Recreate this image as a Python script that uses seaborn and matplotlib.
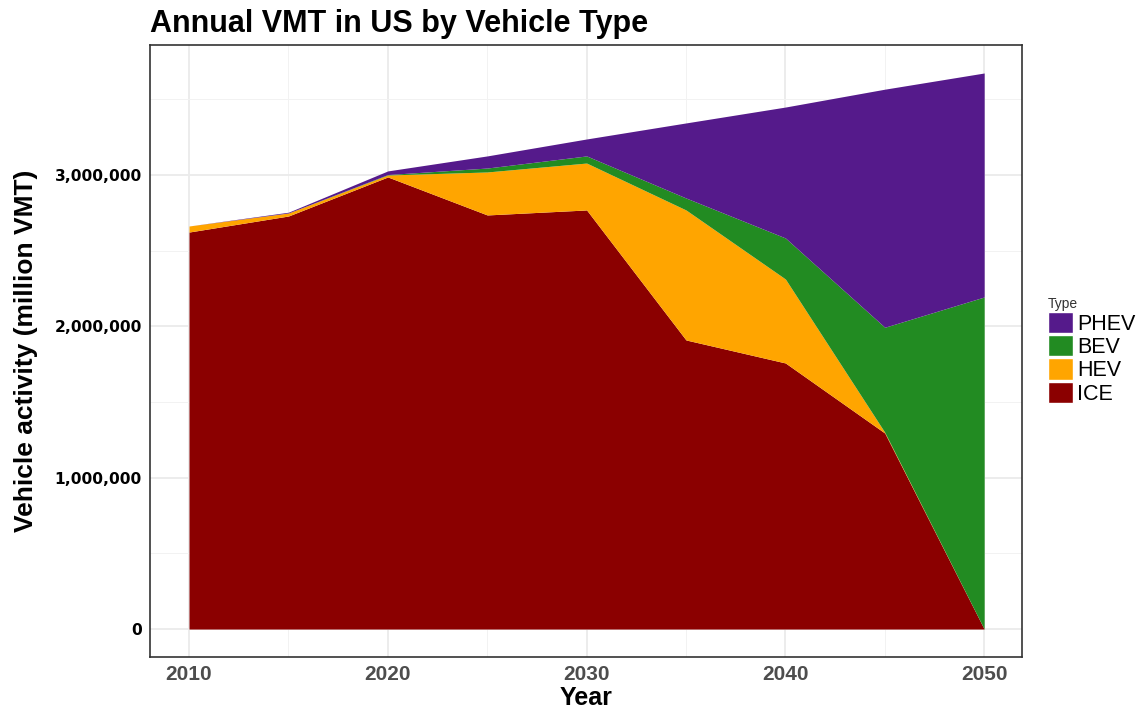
import numpy as np
import matplotlib.pyplot as plt
import matplotlib.ticker as mticker
from matplotlib.patches import Patch
import seaborn as sns

years = [2010, 2015, 2020, 2025, 2030, 2035, 2040, 2045, 2050]
ice = [2623000, 2729000, 2987000, 2736000, 2769000, 1910000, 1758000, 1295000, 0]
hev = [40000, 20000, 13000, 284000, 310000, 859000, 555000, 5000, 0]
bev = [0, 0, 3000, 26000, 47000, 79000, 271000, 694000, 2194000]
phev = [0, 5000, 24000, 80000, 112000, 496000, 865000, 1573000, 1480000]

types = ['ICE', 'HEV', 'BEV', 'PHEV']
colors = {'ICE': '#8B0000', 'HEV': '#FFA500', 'BEV': '#228B22', 'PHEV': '#551A8B'}

sns.set_theme(style='whitegrid')
plt.rcParams['font.family'] = ['Liberation Sans', 'DejaVu Sans']
plt.rcParams['text.color'] = 'black'

fig = plt.figure(figsize=(11.48, 7.13), dpi=100)
ax = fig.add_axes([0.1307, 0.0785, 0.7595, 0.8584])

ax.stackplot(years, ice, hev, bev, phev,
             colors=[colors[t] for t in types], linewidth=0)

ax.set_xlim(2008.04, 2051.9)
ax.set_ylim(-185000, 3859000)
ax.xaxis.set_major_locator(mticker.MultipleLocator(10))
ax.xaxis.set_minor_locator(mticker.MultipleLocator(5))
ax.yaxis.set_major_locator(mticker.MultipleLocator(1000000))
ax.yaxis.set_minor_locator(mticker.MultipleLocator(500000))
ax.yaxis.set_major_formatter(mticker.FuncFormatter(lambda v, p: '{:,.0f}'.format(v)))

ax.set_axisbelow(True)
ax.grid(which='major', color='#EBEBEB', linewidth=1.3)
ax.grid(which='minor', color='#F2F2F2', linewidth=0.7)
ax.set_facecolor('white')
for s in ax.spines.values():
    s.set_color('#333333')
    s.set_linewidth(1.2)

ax.tick_params(axis='both', which='major', length=3, color='#333333', pad=3)
ax.tick_params(axis='both', which='minor', length=0)
for lab in ax.get_yticklabels():
    lab.set_fontfamily('DejaVu Sans')
    lab.set_fontweight('bold')
    lab.set_fontsize(11.2)
    lab.set_color('black')
for lab in ax.get_xticklabels():
    lab.set_fontfamily(['Liberation Sans', 'DejaVu Sans'])
    lab.set_fontweight('bold')
    lab.set_fontsize(15)
    lab.set_color('#4D4D4D')

ax.set_xlabel('Year', fontsize=18, fontweight='bold', color='black', labelpad=1)
ax.set_ylabel('Vehicle activity (million VMT)', fontsize=19, fontweight='bold',
              color='black', labelpad=12)
fig.text(0.1307, 0.955, 'Annual VMT in US by Vehicle Type', fontsize=22,
         fontweight='bold', ha='left', va='baseline', color='black')

handles = [Patch(facecolor=colors[t], edgecolor='white', label=t) for t in ['PHEV', 'BEV', 'HEV', 'ICE']]
leg = ax.legend(handles=handles, title='Type', loc='center left',
                bbox_to_anchor=(1.02, 0.5), frameon=False, fontsize=15.5,
                title_fontsize=10, handlelength=1.15, handleheight=1.15,
                handletextpad=0.2, labelspacing=0.02, borderaxespad=0,
                alignment='left')
leg.get_title().set_color('#333333')

fig.savefig('out.png', dpi=100)
